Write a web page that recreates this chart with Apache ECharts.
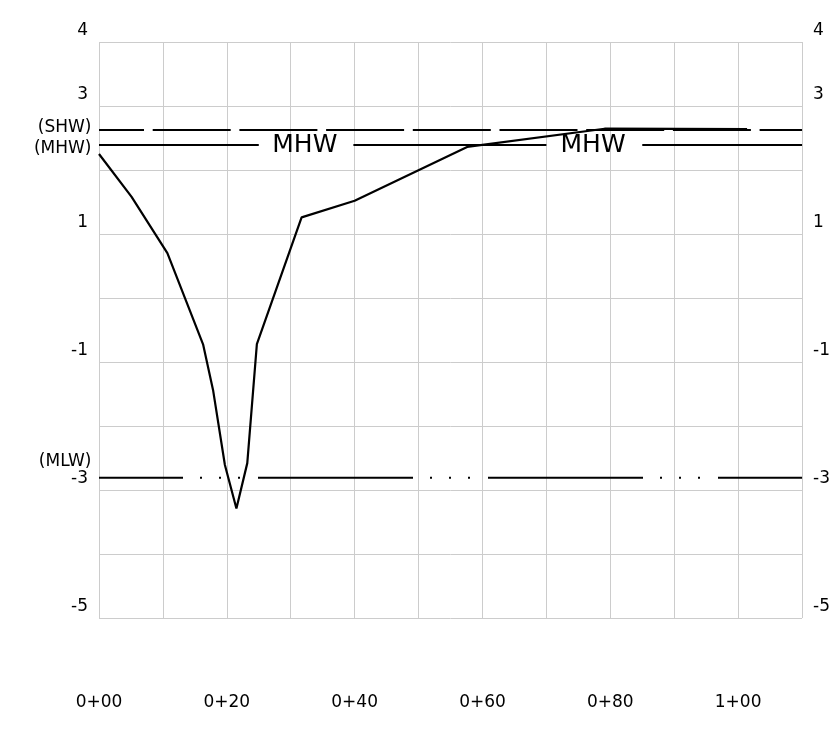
<!DOCTYPE html>
<html>
<head>
<meta charset="utf-8">
<script src="https://cdn.jsdelivr.net/npm/echarts@6/dist/echarts.min.js"></script>
<style>html,body{margin:0;padding:0;background:#fff}#c{width:833px;height:743px}</style>
</head>
<body>
<div id="c"></div>
<script>
// ---- data ----
const stations   = [0, 5.1, 10.7, 16.3, 17.85, 19.7, 21.5, 23.2, 24.7, 31.7, 40, 57.6, 79.1, 101.4];
const elevations = [2.25, 1.58, 0.70, -0.73, -1.44, -2.61, -3.29, -2.58, -0.72, 1.26, 1.52, 2.36, 2.645, 2.64];
const datumNames  = ['(SHW)', '(MHW)', '(MLW)'];
const datumLevels = [2.625, 2.39, -2.81];
const mhwTextStations = [32.2, 77.3];
const mhwSegments = [[0, 25], [39.8, 70], [85, 110]];
const xTickValues = [0, 20, 40, 60, 80, 100];
const xTickLabels = ['0+00', '0+20', '0+40', '0+60', '0+80', '1+00'];
const yTickValues = [4, 3, 1, -1, -3, -5];

const FONT = 'DejaVu Sans';
const chart = echarts.init(document.getElementById('c'));

const yLabel = {
  fontFamily: FONT, fontSize: 17, color: '#000',
  verticalAlign: 'bottom', lineHeight: 22, margin: 11,
  formatter: v => yTickValues.indexOf(v) >= 0 ? String(v) : ''
};

const series = [];
// profile
series.push({
  type: 'line', z: 5, symbol: 'none', animation: false,
  data: stations.map((s, i) => [s, elevations[i]]),
  lineStyle: { color: '#000', width: 2.2 }
});
// SHW
series.push({
  type: 'line', symbol: 'none', animation: false,
  data: [[0, datumLevels[0]], [110, datumLevels[0]]],
  lineStyle: { color: '#000', width: 2, type: [78, 8.7], dashOffset: 33, cap: 'butt' }
});
// MHW segments
mhwSegments.forEach(seg => series.push({
  type: 'line', symbol: 'none', animation: false,
  data: [[seg[0], datumLevels[1]], [seg[1], datumLevels[1]]],
  lineStyle: { color: '#000', width: 2 }
}));
// MLW
series.push({
  type: 'line', symbol: 'none', animation: false,
  data: [[0, datumLevels[2]], [110, datumLevels[2]]],
  lineStyle: { color: '#000', width: 2, type: [155, 17, 2, 17, 2, 17, 2, 18], dashOffset: 71, cap: 'butt' }
});
// MHW texts
series.push({
  type: 'scatter', symbolSize: 1, animation: false, z: 6,
  itemStyle: { color: 'rgba(0,0,0,0)', opacity: 1 },
  data: mhwTextStations.map(s => [s, datumLevels[1]]),
  label: { show: true, position: 'inside', formatter: 'MHW', color: '#000', opacity: 1,
           textBorderWidth: 0, fontFamily: FONT, fontSize: 25 }
});
// datum names at left
const datumOffsets = [[0, -2], [0, 4], [0, -16]];
series.push({
  type: 'scatter', symbolSize: 1, animation: false, z: 6,
  itemStyle: { color: 'rgba(0,0,0,0)', opacity: 1 },
  data: datumNames.map((n, i) => ({
    name: n, value: [0, datumLevels[i]],
    label: { offset: datumOffsets[i] }
  })),
  label: { show: true, position: 'left', distance: 7, formatter: '{b}', color: '#000', opacity: 1,
           textBorderWidth: 0, fontFamily: FONT, fontSize: 17 }
});

chart.setOption({
  animation: false,
  grid: { left: 99, right: 30, top: 42, bottom: 125 },
  xAxis: {
    type: 'value', min: 0, max: 110, interval: 10,
    axisLine: { show: false }, axisTick: { show: false },
    splitLine: { show: true, lineStyle: { color: '#cccccc', width: 1 } },
    axisLabel: {
      fontFamily: FONT, fontSize: 17, color: '#000', margin: 76,
      formatter: v => { const i = xTickValues.indexOf(v); return i >= 0 ? xTickLabels[i] : ''; }
    }
  },
  yAxis: [
    {
      type: 'value', min: -5, max: 4, interval: 1, position: 'left',
      axisLine: { show: false }, axisTick: { show: false },
      splitLine: { show: true, lineStyle: { color: '#cccccc', width: 1 } },
      axisLabel: Object.assign({}, yLabel)
    },
    {
      type: 'value', min: -5, max: 4, interval: 1, position: 'right',
      axisLine: { show: false }, axisTick: { show: false },
      splitLine: { show: false },
      axisLabel: Object.assign({}, yLabel)
    }
  ],
  series: series
});
</script>
</body>
</html>
